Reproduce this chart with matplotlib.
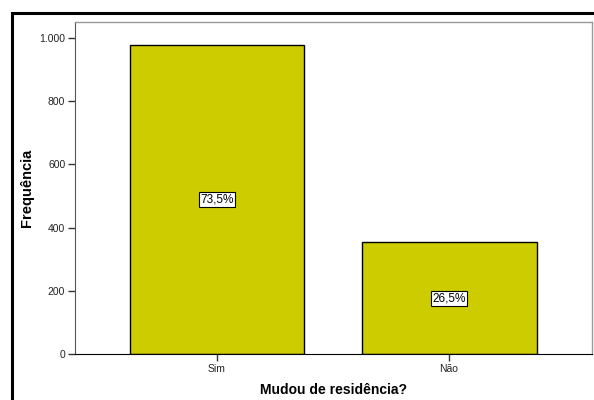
import numpy as np
import matplotlib
matplotlib.use('Agg')
import matplotlib.pyplot as plt
from matplotlib.patches import Rectangle
from matplotlib.ticker import FuncFormatter

categories = ['Sim', 'Não']
counts = [978, 353]
pct_labels = ['73,5%', '26,5%']
yticks = [0, 200, 400, 600, 800, 1000]

W, H = 594, 400
fig = plt.figure(figsize=(W / 100, H / 100), dpi=100, facecolor='white')
ax = fig.add_axes([75 / W, 1 - 354 / H, (592 - 75) / W, (354 - 22) / H])

x = np.arange(len(categories))
ax.bar(x, counts, width=0.754, color='#cccc00', edgecolor='black', linewidth=1.0, zorder=2)
for xi, c, lab in zip(x, counts, pct_labels):
    ax.text(xi, c / 2, lab, ha='center', va='center', fontsize=8.5, family='Liberation Sans',
            bbox=dict(boxstyle='square,pad=0.12', fc='white', ec='black', lw=0.8), zorder=3)

ax.set_xlim(-0.612, 1.616)
ax.set_ylim(0, 1050)
ax.set_xticks(x)
ax.set_xticklabels(categories, fontsize=7.5, family='Liberation Sans', color='#222222')
ax.set_yticks(yticks)
ax.yaxis.set_major_formatter(FuncFormatter(lambda v, p: f'{int(v):,}'.replace(',', '.')))
for t in ax.get_yticklabels():
    t.set_fontsize(7.5)
    t.set_family('Liberation Sans')
    t.set_color('#222222')
ax.tick_params(axis='both', length=5, width=1, color='#333333', pad=2)

for s in ['top', 'right']:
    ax.spines[s].set_color('#999999')
    ax.spines[s].set_linewidth(1)
ax.spines['left'].set_color('#555555')
ax.spines['bottom'].set_color('black')

ax.set_ylabel('Frequência', fontsize=10.5, fontweight='bold', family='Liberation Sans', labelpad=4)
ax.set_xlabel('Mudou de residência?', fontsize=10, fontweight='bold', family='Liberation Sans', labelpad=7)

# outer frame, cut at right and bottom
fig.patches.append(Rectangle((12 / W, -0.05), 1.1, 1 - 13 / H + 0.05, transform=fig.transFigure,
                             fill=False, ec='black', lw=2.2))

fig.savefig('out.png', dpi=100, facecolor='white')
